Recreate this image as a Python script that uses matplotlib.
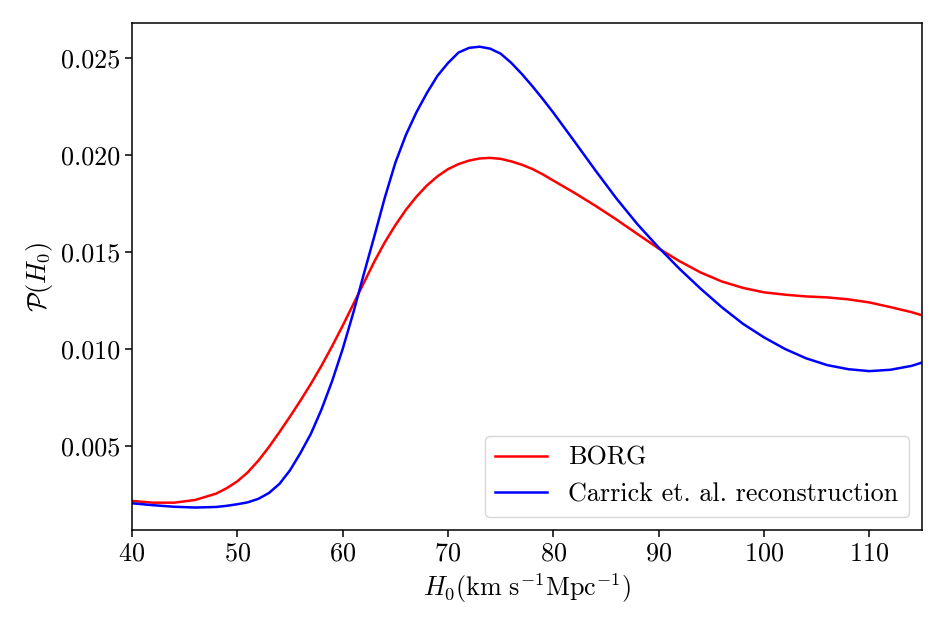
import matplotlib
matplotlib.use("Agg")
import matplotlib.pyplot as plt

# Fonte estilo LaTeX (Computer Modern)
plt.rcParams['font.family'] = 'serif'
plt.rcParams['font.serif'] = ['cmr10']
plt.rcParams['mathtext.fontset'] = 'cm'
plt.rcParams['axes.formatter.use_mathtext'] = True
plt.rcParams['font.size'] = 18.8

# Valores de H0 (km/s/Mpc)
h0 = [40, 42, 44, 46, 48, 49, 50, 51, 52, 53, 54, 55, 56, 57, 58, 59, 60,
      61, 62, 63, 64, 65, 66, 67, 68, 69, 70, 71, 72, 73, 74, 75, 76, 77,
      78, 79, 80, 82, 84, 86, 88, 90, 92, 94, 96, 98, 100, 102, 104, 106,
      108, 110, 112, 114, 115]

# Posterior BORG
p_borg = [0.00217, 0.00208, 0.00208, 0.00222, 0.00255, 0.00283, 0.00318,
          0.00365, 0.00425, 0.00495, 0.00572, 0.00652, 0.00735, 0.00822,
          0.00915, 0.01015, 0.01120, 0.01230, 0.01340, 0.01450, 0.01550,
          0.01638, 0.01717, 0.01785, 0.01843, 0.01890, 0.01927, 0.01953,
          0.01971, 0.01982, 0.01985, 0.01980, 0.01967, 0.01950, 0.01928,
          0.01900, 0.01868, 0.01805, 0.01738, 0.01667, 0.01592, 0.01518,
          0.01452, 0.01394, 0.01348, 0.01315, 0.01292, 0.01280, 0.01271,
          0.01266, 0.01256, 0.01240, 0.01216, 0.01190, 0.01174]

# Posterior Carrick et al.
p_carrick = [0.00205, 0.00195, 0.00187, 0.00183, 0.00186, 0.00192, 0.00200,
             0.00210, 0.00228, 0.00258, 0.00305, 0.00375, 0.00465, 0.00565,
             0.00690, 0.00835, 0.01000, 0.01185, 0.01385, 0.01580, 0.01780,
             0.01960, 0.02103, 0.02220, 0.02320, 0.02408, 0.02474, 0.02528,
             0.02552, 0.02558, 0.02548, 0.02522, 0.02475, 0.02418, 0.02355,
             0.02288, 0.02218, 0.02070, 0.01920, 0.01775, 0.01642, 0.01523,
             0.01412, 0.01310, 0.01215, 0.01130, 0.01060, 0.01000, 0.00952,
             0.00917, 0.00896, 0.00886, 0.00893, 0.00913, 0.00930]

fig = plt.figure(figsize=(9.47, 6.31), dpi=100)
ax = fig.add_axes([0.1394, 0.16, 0.8342, 0.8035])

ax.plot(h0, p_borg, color='red', lw=1.8, label='BORG')
ax.plot(h0, p_carrick, color='blue', lw=1.8, label='Carrick et. al. reconstruction')

ax.set_xlim(40, 115)
ax.set_ylim(0.00067, 0.0268)
ax.set_yticks([0.005, 0.010, 0.015, 0.020, 0.025])
ax.set_yticklabels(['0.005', '0.010', '0.015', '0.020', '0.025'])
ax.tick_params(length=5, width=1.1)
for s in ax.spines.values():
    s.set_linewidth(1.1)

ax.set_xlabel(r'$H_0(\mathrm{km\ s^{-1}Mpc^{-1}})$')
ax.set_ylabel(r'$\mathcal{P}(H_0)$')
ax.legend(loc='lower right')

plt.savefig('out.png', dpi=100)
